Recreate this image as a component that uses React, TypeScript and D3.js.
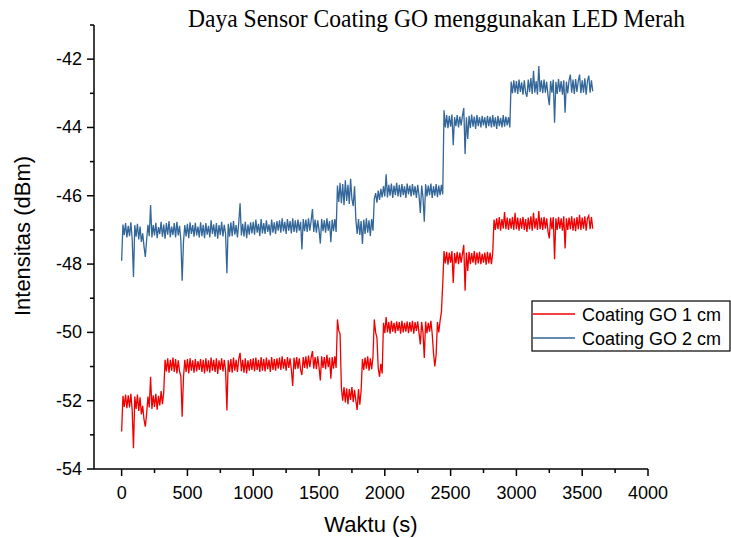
import React from 'react';
import * as d3 from 'd3';

const chartTitle = 'Daya Sensor Coating GO menggunakan LED Merah';
const xTitle = 'Waktu (s)';
const yTitle = 'Intensitas (dBm)';
const seriesNames = ['Coating GO 1 cm', 'Coating GO 2 cm'];

const xMajorTicks = [0, 500, 1000, 1500, 2000, 2500, 3000, 3500, 4000];
const xMinorTicks = [250, 750, 1250, 1750, 2250, 2750, 3250, 3750];
const yMajorTicks = [-54, -52, -50, -48, -46, -44, -42];
const yMinorTicks = [-53, -51, -49, -47, -45, -43, -41];

const sampleInterval = 10; // seconds between samples

// Coating GO 2 cm (blue)
const blueValues = [
  -47.90, -46.84, -47.15, -46.80, -47.22, -46.88, -47.18, -46.78, -47.25, -48.38, -46.86, -47.20, -46.82, -47.28, -46.90, -47.35, -47.10, -47.48, -47.79, -47.30,
  -46.85, -47.18, -46.27, -47.22, -46.86, -47.16, -46.79, -47.24, -46.92, -47.12, -46.76, -47.20, -46.84, -47.26, -46.80, -47.14, -46.74, -47.21, -46.90, -47.15,
  -46.80, -47.22, -46.76, -47.16, -46.88, -47.30, -48.49, -47.35, -46.86, -47.19, -46.82, -47.24, -46.78, -47.12, -46.86, -47.20, -46.79, -47.16, -46.90, -47.22,
  -46.78, -47.18, -46.85, -47.24, -46.80, -47.14, -46.88, -47.22, -46.72, -47.12, -46.84, -47.20, -46.80, -47.26, -46.86, -47.15, -46.76, -47.19, -46.85, -47.12,
  -48.27, -46.82, -47.20, -46.78, -47.18, -46.74, -47.14, -46.86, -47.22, -46.80, -46.22, -47.16, -46.82, -47.19, -46.76, -47.24, -46.84, -47.14, -46.78, -47.10,
  -46.76, -47.14, -46.70, -47.08, -46.82, -47.18, -46.68, -47.10, -46.80, -47.12, -46.72, -47.06, -46.84, -47.16, -46.70, -47.08, -46.78, -47.12, -46.74, -47.02,
  -46.72, -47.08, -46.66, -47.04, -46.76, -47.12, -46.68, -47.02, -46.74, -47.10, -46.66, -47.06, -46.72, -47.08, -46.70, -47.02, -46.76, -47.57, -46.68, -47.04,
  -46.70, -47.06, -46.66, -47.02, -46.74, -46.39, -47.06, -46.70, -47.08, -46.72, -47.00, -47.40, -46.68, -47.04, -46.72, -47.08, -46.66, -47.02, -46.74, -47.36,
  -46.70, -47.04, -46.68, -47.06, -45.70, -46.18, -45.62, -46.22, -45.66, -46.28, -45.55, -46.15, -45.68, -46.24, -45.50, -46.10, -46.30, -45.72, -46.70, -47.12,
  -46.68, -47.15, -46.74, -47.41, -46.70, -47.12, -46.66, -47.08, -46.72, -47.18, -46.68, -47.02, -46.10, -45.92, -46.20, -45.85, -46.12, -45.80, -46.05, -45.72,
  -46.02, -45.37, -46.05, -45.68, -46.00, -45.64, -46.06, -45.70, -45.98, -45.62, -46.02, -45.68, -46.04, -45.66, -45.98, -45.72, -46.06, -45.64, -45.96, -45.70,
  -46.02, -45.66, -45.98, -45.72, -46.06, -45.68, -46.00, -46.50, -45.70, -46.04, -46.76, -45.66, -46.02, -45.70, -45.98, -45.64, -46.06, -45.72, -46.00, -45.66,
  -46.04, -45.70, -45.98, -45.68, -45.96, -43.50, -44.00, -43.64, -44.02, -43.66, -43.98, -43.62, -44.52, -43.70, -43.96, -43.64, -44.00, -43.68, -43.94, -43.66,
  -43.43, -44.78, -43.70, -44.34, -43.66, -44.02, -43.62, -43.98, -43.68, -44.04, -43.64, -43.96, -43.70, -44.00, -43.66, -43.94, -43.70, -44.02, -43.66, -43.96,
  -43.68, -44.00, -43.64, -43.98, -43.70, -44.04, -43.66, -43.96, -43.72, -44.00, -43.64, -43.98, -43.68, -43.94, -43.70, -44.00, -42.66, -43.00, -42.62, -42.98,
  -42.64, -43.02, -42.60, -42.96, -42.68, -43.04, -42.62, -42.98, -43.10, -42.60, -42.96, -42.55, -43.02, -42.34, -42.98, -42.64, -43.04, -42.20, -42.96, -42.62,
  -43.00, -42.60, -42.98, -42.66, -43.06, -43.35, -42.64, -42.98, -42.60, -43.86, -42.66, -43.02, -42.58, -42.96, -42.64, -43.04, -42.62, -43.57, -42.66, -43.00,
  -42.62, -42.45, -42.98, -42.60, -43.02, -42.58, -42.96, -42.64, -42.45, -43.00, -42.62, -42.98, -42.56, -43.04, -42.64, -42.48, -42.98, -42.62, -42.94,
];

// Coating GO 1 cm (red)
const redValues = [
  -52.90, -51.86, -52.18, -51.82, -52.22, -51.84, -52.20, -51.80, -52.26, -53.39, -51.88, -52.24, -51.82, -52.30, -51.90, -52.40, -52.15, -52.55, -52.76, -52.38,
  -51.88, -52.20, -51.30, -52.24, -51.84, -52.18, -51.80, -52.26, -51.86, -52.14, -51.72, -52.10, -51.75, -50.80, -51.14, -50.76, -51.18, -50.80, -51.12, -50.74,
  -51.16, -50.78, -51.20, -50.82, -51.14, -51.28, -52.47, -51.32, -50.80, -51.16, -50.78, -51.20, -50.76, -51.12, -50.82, -51.18, -50.78, -51.14, -50.84, -51.10,
  -50.78, -51.16, -50.80, -51.20, -50.76, -51.14, -50.82, -51.18, -50.74, -51.12, -50.80, -51.16, -50.76, -51.22, -50.82, -51.10, -50.76, -51.14, -50.80, -51.12,
  -52.29, -50.82, -51.16, -50.78, -51.18, -50.74, -51.12, -50.80, -51.16, -50.78, -50.60, -51.14, -50.80, -51.18, -50.76, -51.20, -50.82, -51.12, -50.78, -51.10,
  -50.76, -51.14, -50.74, -51.10, -50.80, -51.16, -50.72, -51.12, -50.78, -51.14, -50.74, -51.08, -50.80, -51.16, -50.72, -51.10, -50.78, -51.12, -50.76, -51.06,
  -50.74, -51.10, -50.70, -51.06, -50.78, -51.12, -50.72, -51.04, -50.76, -51.10, -51.57, -50.74, -51.08, -50.72, -51.06, -50.76, -51.10, -51.25, -50.72, -51.04,
  -50.70, -51.06, -50.68, -51.02, -50.74, -50.55, -51.06, -50.72, -51.08, -50.70, -51.02, -51.41, -50.70, -51.04, -50.72, -51.08, -50.66, -51.02, -50.74, -51.36,
  -50.72, -51.06, -50.70, -51.04, -49.62, -49.95, -50.05, -51.62, -52.00, -51.60, -52.05, -51.64, -52.10, -51.66, -51.98, -51.60, -52.04, -51.68, -52.00, -52.27,
  -51.66, -52.12, -51.70, -50.78, -51.10, -50.74, -51.06, -50.70, -51.12, -50.76, -51.08, -50.72, -49.62, -50.00, -50.15, -51.05, -51.30, -50.92, -51.20, -49.72,
  -50.02, -49.55, -50.00, -49.70, -50.04, -49.66, -49.98, -49.72, -50.02, -49.68, -49.96, -49.70, -50.04, -49.66, -50.00, -49.72, -49.98, -49.68, -50.02, -49.70,
  -49.98, -49.66, -50.04, -49.70, -49.96, -49.68, -50.02, -50.35, -49.70, -50.00, -50.75, -49.68, -50.02, -49.72, -49.98, -49.66, -50.04, -50.60, -51.00, -50.65,
  -49.70, -50.00, -49.66, -49.40, -48.60, -47.62, -47.98, -47.64, -48.02, -47.66, -47.96, -47.62, -48.55, -47.68, -47.98, -47.64, -48.00, -47.66, -47.96, -47.70,
  -47.44, -48.78, -47.66, -48.20, -47.64, -48.00, -47.68, -47.96, -47.62, -48.02, -47.66, -47.98, -47.64, -48.00, -47.70, -47.96, -47.66, -48.02, -47.64, -47.98,
  -47.66, -48.00, -47.68, -46.70, -47.00, -46.66, -46.98, -46.62, -47.02, -46.68, -46.96, -46.48, -46.98, -46.64, -47.00, -46.66, -46.96, -46.62, -47.00, -46.50,
  -46.98, -46.64, -47.02, -46.66, -46.96, -46.62, -47.00, -46.68, -47.06, -46.64, -46.98, -46.60, -47.02, -46.50, -46.96, -46.66, -47.00, -46.45, -46.98, -46.64,
  -47.00, -46.62, -46.96, -46.66, -47.04, -47.25, -46.64, -46.98, -46.62, -47.86, -46.66, -47.00, -46.62, -46.96, -46.66, -47.02, -46.60, -47.54, -46.66, -47.00,
  -46.64, -46.98, -46.60, -47.02, -46.66, -47.04, -46.62, -46.98, -46.56, -47.00, -46.64, -46.96, -46.60, -47.02, -46.66, -46.58, -46.98, -46.62, -46.96,
];

const RED = '#f00000';
const BLUE = '#336699';
const SANS = '"Liberation Sans", Arial, sans-serif';
const SERIF = '"Liberation Serif", "Times New Roman", serif';

export default function App() {
  const x = d3.scaleLinear().domain([-210, 4000]).range([94, 648]);
  const y = d3.scaleLinear().domain([-54, -41]).range([469, 25]);
  const line = d3
    .line<number>()
    .x((_, i) => x(i * sampleInterval))
    .y((d) => y(d));

  const x0 = x.range()[0];
  const y0 = y.range()[0];

  return (
    <svg
      width={731}
      height={538}
      style={{ position: 'absolute', left: 0, top: 0, background: '#fff' }}
    >
      <rect width={731} height={538} fill="#fff" />
      <text
        x={188}
        y={27}
        fontFamily={SERIF}
        fontSize={25}
        textLength={497}
        lengthAdjust="spacingAndGlyphs"
        fill="#000"
      >
        {chartTitle}
      </text>

      {/* data */}
      <path d={line(redValues) || ''} fill="none" stroke={RED} strokeWidth={1.3} />
      <path d={line(blueValues) || ''} fill="none" stroke={BLUE} strokeWidth={1.3} />

      {/* axes */}
      <g stroke="#000" strokeWidth={1.5} fill="none">
        <line x1={x0} y1={y0} x2={x(4000)} y2={y0} />
        <line x1={x0} y1={y0} x2={x0} y2={y(-41)} />
        {xMajorTicks.map((t) => (
          <line key={'xM' + t} x1={x(t)} x2={x(t)} y1={y0} y2={y0 + 7} />
        ))}
        {xMinorTicks.map((t) => (
          <line key={'xm' + t} x1={x(t)} x2={x(t)} y1={y0} y2={y0 + 4} />
        ))}
        {yMajorTicks.map((t) => (
          <line key={'yM' + t} x1={x0 - 7} x2={x0} y1={y(t)} y2={y(t)} />
        ))}
        {yMinorTicks.map((t) => (
          <line key={'ym' + t} x1={x0 - 4} x2={x0} y1={y(t)} y2={y(t)} />
        ))}
      </g>
      <g fontFamily={SANS} fontSize={18} fill="#000">
        {xMajorTicks.map((t) => (
          <text key={'xl' + t} x={x(t)} y={499} textAnchor="middle">
            {t}
          </text>
        ))}
        {yMajorTicks.map((t) => (
          <text key={'yl' + t} x={82} y={y(t) + 6} textAnchor="end">
            {t}
          </text>
        ))}
      </g>
      <text x={371} y={532} textAnchor="middle" fontFamily={SANS} fontSize={22} fill="#000">
        {xTitle}
      </text>
      <text
        transform="translate(30,236) rotate(-90)"
        textAnchor="middle"
        fontFamily={SANS}
        fontSize={22}
        fill="#000"
      >
        {yTitle}
      </text>

      {/* legend */}
      <rect x={532} y={301} width={198} height={50} fill="#fff" stroke="#000" strokeWidth={1.2} />
      <line x1={533} x2={575} y1={314} y2={314} stroke={RED} strokeWidth={1.5} />
      <line x1={533} x2={575} y1={338} y2={338} stroke={BLUE} strokeWidth={1.5} />
      <g fontFamily={SANS} fontSize={18} fill="#000">
        <text x={582} y={320.5}>{seriesNames[0]}</text>
        <text x={582} y={344.5}>{seriesNames[1]}</text>
      </g>
    </svg>
  );
}
